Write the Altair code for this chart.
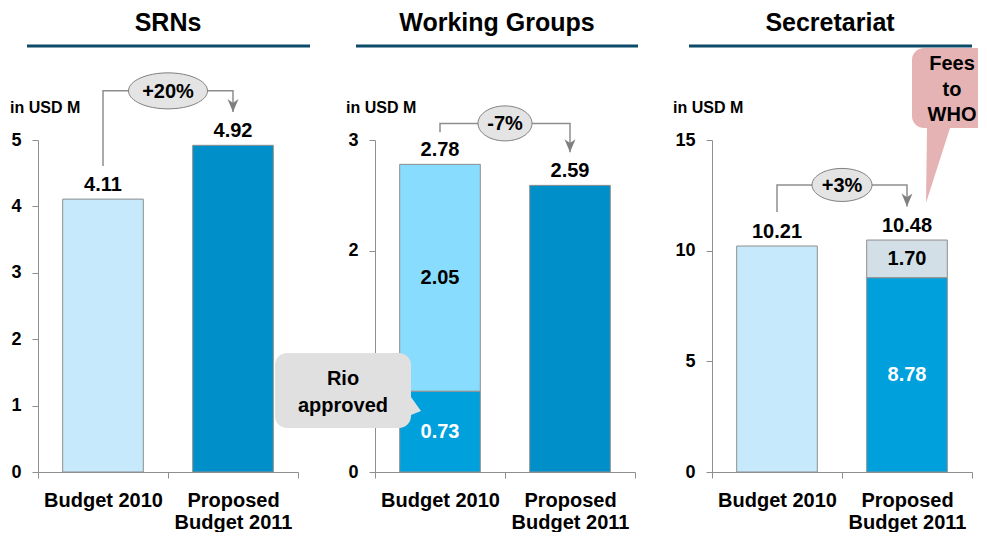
import altair as alt
import pandas as pd

FONT = "Liberation Sans"

# ---------------- data ----------------
categories = ["Budget 2010", "Proposed|Budget 2011"]
titles = ["SRNs", "Working Groups", "Secretariat"]
unit_label = "in USD M"

srn_values = [4.11, 4.92]
wg_2010_parts = [0.73, 2.05]      # Rio approved, other
wg_2011_value = [2.59]
sec_2010_value = [10.21]
sec_2011_parts = [8.78, 1.70]     # base, fees to WHO
totals_srn = [4.11, 4.92]
totals_wg = [2.78, 2.59]
totals_sec = [10.21, 10.48]
changes = ["+20%", "-7%", "+3%"]
callout_rio = ["Rio", "approved"]
callout_fees = ["Fees", "to", "WHO"]
ticks_srn = [0, 1, 2, 3, 4, 5]
ticks_wg = [0, 2, 3]              # the "1" label sits under the "Rio approved" callout
ticks_sec = [0, 5, 10, 15]

# ---------------- styles ----------------
W, H = 260, 332
AXIS_GRAY = "#8e8e8e"
color_domain = ["srn10", "srn11", "wgRio", "wgOther", "wg11", "sec10", "secBase", "secFees"]
color_range = ["#c6eafb", "#008fc9", "#00a0dd", "#88dcfd", "#008fc9", "#c6eafb", "#00a0dd", "#d2dfe6"]


def stack(cat, keys, parts, seg_labels, tcolors):
    rows, lo = [], 0.0
    for k, v, lab, tc in zip(keys, parts, seg_labels, tcolors):
        rows.append(dict(cat=cat, key=k, lo=lo, hi=lo + v, mid=lo + v / 2, seg=lab, tc=tc))
        lo += v
    return rows


def xenc(**kw):
    return alt.X("cat:N", sort=categories, title=None,
                 scale=alt.Scale(paddingInner=0, paddingOuter=0),
                 axis=alt.Axis(labelExpr="split(datum.label, '|')", tickBand="extent",
                               labelAngle=0, labelOverlap=False), **kw)


def yenc(field, domain, ticks):
    return alt.Y(f"{field}:Q", title=None,
                 scale=alt.Scale(domain=domain, nice=False),
                 axis=alt.Axis(values=ticks))


def ellipse_path(w, h):
    r = h / w
    return f"M-1,0A1,{r:.4f} 0 1,0 1,0A1,{r:.4f} 0 1,0 -1,0Z"


ARROW = "M0,0L-0.42,-1L0,-0.7L0.42,-1Z"


def note_text(text, x, y):
    return (alt.Chart(pd.DataFrame({"t": [text]}))
            .mark_text(font=FONT, fontSize=20, fontWeight="bold", baseline="alphabetic")
            .encode(x=alt.value(x), y=alt.value(y), text="t:N"))


def panel(title, bars, totals, change, domain, ticks, leg_low, bracket, tip, ell_wh,
          title_cx, line_x, unit_x, extra=None):
    bdf = pd.DataFrame(bars)
    y = lambda f: yenc(f, domain, ticks)
    layers = []
    # invisible spacer that fixes the top edge of the drawing
    layers.append(
        alt.Chart(pd.DataFrame({"t": [0]})).mark_rule(opacity=0)
        .encode(x=alt.value(0), x2=alt.value(10), y=alt.value(-132))
    )
    layers.append(
        alt.Chart(bdf).mark_bar(width=alt.RelativeBandSize(0.62), stroke=AXIS_GRAY, strokeWidth=1)
        .encode(x=xenc(), y=y("lo"), y2="hi:Q",
                fill=alt.Fill("key:N", scale=alt.Scale(domain=color_domain, range=color_range), legend=None))
    )
    seg = bdf[bdf["seg"] != ""]
    if len(seg):
        layers.append(
            alt.Chart(seg).mark_text(font=FONT, fontSize=20, fontWeight="bold", baseline="middle")
            .encode(x=xenc(), y=y("mid"), text="seg:N",
                    color=alt.condition(alt.datum.tc == "w", alt.value("white"), alt.value("black")))
        )
    tdf = pd.DataFrame({"cat": categories, "total": totals,
                        "label": [f"{v:.2f}" for v in totals]})
    layers.append(
        alt.Chart(tdf).mark_text(font=FONT, fontSize=20, fontWeight="bold", baseline="alphabetic", dy=-8)
        .encode(x=xenc(), y=y("total"), text="label:N")
    )
    # bracket with arrow
    brdf = pd.DataFrame({"cat": [categories[0], categories[0], categories[1], categories[1]],
                         "v": [leg_low, bracket, bracket, tip], "o": [0, 1, 2, 3]})
    layers.append(
        alt.Chart(brdf).mark_line(color=AXIS_GRAY, strokeWidth=1.5)
        .encode(x=xenc(), y=y("v"), order="o:Q")
    )
    layers.append(
        alt.Chart(pd.DataFrame({"cat": [categories[1]], "v": [tip]}))
        .mark_point(shape=ARROW, size=676, filled=True, color="#7f7f7f", opacity=1)
        .encode(x=xenc(), y=y("v"))
    )
    edf = pd.DataFrame({"cat": [categories[0]], "v": [bracket], "t": [change]})
    layers.append(
        alt.Chart(edf).mark_point(shape=ellipse_path(*ell_wh), size=ell_wh[0] ** 2, filled=True,
                                  fill="#e4e4e4", stroke="#808080", strokeWidth=1, opacity=1)
        .encode(x=xenc(bandPosition=1), y=y("v"))
    )
    layers.append(
        alt.Chart(edf).mark_text(font=FONT, fontSize=20, fontWeight="bold", baseline="middle", dy=1)
        .encode(x=xenc(bandPosition=1), y=y("v"), text="t:N")
    )
    # title, underline, unit
    one = pd.DataFrame({"t": [title]})
    layers.append(
        alt.Chart(one).mark_text(font=FONT, fontSize=25, fontWeight="bold", baseline="alphabetic")
        .encode(x=alt.value(title_cx), y=alt.value(-109), text="t:N")
    )
    layers.append(
        alt.Chart(one).mark_rule(strokeWidth=3, color="#0d4b68")
        .encode(x=alt.value(line_x[0]), x2=alt.value(line_x[1]), y=alt.value(-94))
    )
    layers.append(
        alt.Chart(pd.DataFrame({"t": [unit_label]}))
        .mark_text(font=FONT, fontSize=16, fontWeight="bold", baseline="alphabetic", align="left")
        .encode(x=alt.value(unit_x), y=alt.value(-27), text="t:N")
    )
    if extra:
        layers.extend(extra)
    return alt.layer(*layers).properties(width=W, height=H)


# SRNs
srn_bars = stack(categories[0], ["srn10"], srn_values[:1], [""], ["k"]) + \
           stack(categories[1], ["srn11"], srn_values[1:], [""], ["k"])
p1 = panel(titles[0], srn_bars, totals_srn, changes[0], [0, 5], ticks_srn,
           4.61, 5.74, 5.42, (79, 36), 130, (-11, 272), -28)

# Working groups
RIO_PATH = ("M12,0H124A12,12 0 0 1 136,12V44L146,58L136,62V63A12,12 0 0 1 124,75"
            "H12A12,12 0 0 1 0,63V12A12,12 0 0 1 12,0Z")
rio_layers = [
    alt.Chart(pd.DataFrame({"t": ["rio"]})).mark_point(shape=RIO_PATH, size=4, filled=True,
                                                      color="#e0e0e0", opacity=1)
    .encode(x=alt.value(-100), y=alt.value(213)),
    note_text(callout_rio[0], -32, 245),
    note_text(callout_rio[1], -32, 272),
]
wg_bars = stack(categories[0], ["wgRio", "wgOther"], wg_2010_parts,
                [f"{v:.2f}" for v in wg_2010_parts], ["w", "k"]) + \
          stack(categories[1], ["wg11"], wg_2011_value, [""], ["k"])
p2 = panel(titles[1], wg_bars, totals_wg, changes[1], [0, 3], ticks_wg,
           3.07, 3.15, 2.89, (54, 35), 122, (-19, 263), -29, rio_layers)

# Secretariat
FEES_PATH = "M12,0H66V80H38L14,155L15,80H12A12,12 0 0 1 0,68V12A12,12 0 0 1 12,0Z"
fees_layers = [
    alt.Chart(pd.DataFrame({"t": ["fees"]})).mark_point(shape=FEES_PATH, size=4, filled=True,
                                                       color="#e6b3b4", opacity=1)
    .encode(x=alt.value(200), y=alt.value(-92)),
    note_text(callout_fees[0], 240, -70),
    note_text(callout_fees[1], 240, -44),
    note_text(callout_fees[2], 240, -19),
]
sec_bars = stack(categories[0], ["sec10"], sec_2010_value, [""], ["k"]) + \
           stack(categories[1], ["secBase", "secFees"], sec_2011_parts,
                 [f"{v:.2f}" for v in sec_2011_parts], ["w", "k"])
p3 = panel(titles[2], sec_bars, totals_sec, changes[2], [0, 15], ticks_sec,
           11.75, 12.97, 12.0, (60, 33), 118, (-23, 260), -39, fees_layers)

chart = (
    alt.hconcat(p1, p2, p3, spacing=77, bounds="flush")
    .properties(padding={"left": 2, "top": 0, "right": 0, "bottom": 0})
    .configure_view(stroke=None)
    .configure_axis(domainColor=AXIS_GRAY, tickColor=AXIS_GRAY, labelColor="black",
                    labelFont=FONT, labelFontWeight="bold", grid=False, tickSize=6)
    .configure_axisX(labelFontSize=20, labelLineHeight=22, labelPadding=12)
    .configure_axisY(labelFontSize=18, labelPadding=11)
)

chart.save("out.html", embed_options={"renderer": "svg", "actions": False})
